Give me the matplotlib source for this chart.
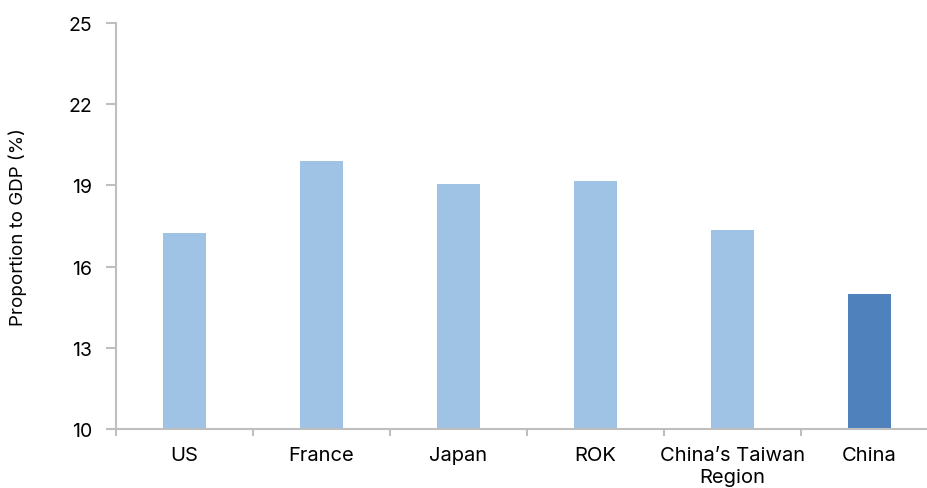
import matplotlib
matplotlib.use("Agg")
import matplotlib.pyplot as plt
import numpy as np

categories = ["US", "France", "Japan", "ROK", "China\u2019s Taiwan\nRegion", "China"]
values = [17.25, 19.9, 19.05, 19.15, 17.35, 15.0]
colors = ["#9FC3E5"] * 5 + ["#4F81BD"]
yticks = [10, 13, 16, 19, 22, 25]

plt.rcParams['font.family'] = ['Inter', 'DejaVu Sans']

fig = plt.figure(figsize=(9.28, 4.89), dpi=100)
ax = fig.add_axes([116/928, 1-430/489, 822/928, (430-24)/489])

x = np.arange(len(categories))
ax.bar(x, values, width=0.32, color=colors, zorder=2)

ax.set_xlim(-0.5, len(categories) - 0.5)
ax.set_ylim(10, 25)
ax.set_yticks(yticks)
ax.set_yticklabels([str(t) for t in yticks], fontsize=14)
ax.set_xticks(x)
ax.set_xticklabels(categories, fontsize=14.5, linespacing=1.3)
ax.set_xticks(np.arange(-0.5, len(categories)), minor=True)
ax.tick_params(axis='x', which='major', length=0, pad=12)
ax.tick_params(axis='x', which='minor', length=5, width=1.5, color="#BFBFBF")
ax.tick_params(axis='y', length=7, width=1.5, color="#BFBFBF", pad=10)

for s in ["top", "right"]:
    ax.spines[s].set_visible(False)
for s in ["left", "bottom"]:
    ax.spines[s].set_color("#BFBFBF")
    ax.spines[s].set_linewidth(1.5)

fig.text(18/928, 1-227/489, "Proportion to GDP (%)", rotation=90, fontsize=13.5,
         ha='center', va='center')

fig.savefig("out.png", dpi=100)
